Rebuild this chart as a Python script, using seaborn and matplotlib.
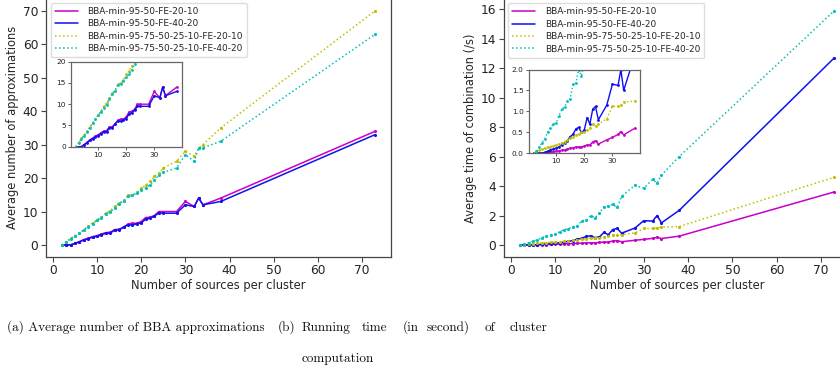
import numpy as np
import pandas as pd
import matplotlib
matplotlib.use("Agg")
import matplotlib.pyplot as plt
import seaborn as sns

# ---------------- data ----------------
sources = [2, 3, 4, 5, 6, 7, 8, 9, 10, 11, 12, 13, 14, 15, 16, 17, 18, 19, 20,
           21, 22, 23, 24, 25, 28, 30, 32, 33, 34, 38, 73]

series_names = ["BBA-min-95-50-FE-20-10", "BBA-min-95-50-FE-40-20",
                "BBA-min-95-75-50-25-10-FE-20-10", "BBA-min-95-75-50-25-10-FE-40-20"]

approx_fe20_95_50 = [0, 0, 0, 0.5, 1.0, 1.6, 2.0, 2.5, 2.8, 3.3, 3.7, 3.8, 4.6, 4.7, 5.3, 6.2, 6.5,
                     6.5, 7.0, 8.2, 8.3, 8.8, 10.0, 10.0, 10.0, 13.0, 11.5, 14.0, 12.0, 14.0, 34.0]
approx_fe40_95_50 = [0, 0, 0, 0.5, 0.9, 1.5, 1.9, 2.3, 2.6, 3.0, 3.5, 3.5, 4.5, 4.4, 5.4, 6.0, 6.0,
                     6.3, 6.6, 7.7, 8.0, 8.6, 9.6, 9.5, 9.5, 12.0, 11.5, 14.0, 12.0, 13.0, 33.0]
approx_fe20_multi = [0, 1.0, 2.0, 2.7, 3.6, 4.6, 5.6, 6.5, 7.5, 8.4, 9.6, 10.3, 11.5, 12.6, 13.2, 14.8,
                     14.9, 15.8, 17.0, 17.8, 19.0, 20.5, 21.5, 23.0, 25.0, 28.0, 26.5, 29.0, 30.0, 35.0, 70.0]
approx_fe40_multi = [0, 0.8, 1.8, 2.6, 3.5, 4.5, 5.5, 6.4, 7.4, 8.2, 9.2, 9.8, 11.2, 12.3, 13.2, 14.5,
                     14.8, 15.5, 16.4, 17.0, 18.0, 19.5, 20.8, 21.7, 23.0, 27.0, 25.0, 29.0, 29.0, 31.0, 63.0]

time_fe20_95_50 = [0, 0, 0, 0, 0.01, 0.02, 0.03, 0.04, 0.05, 0.06, 0.07, 0.08, 0.10, 0.12, 0.13, 0.15,
                   0.15, 0.15, 0.17, 0.20, 0.20, 0.27, 0.30, 0.22, 0.32, 0.38, 0.45, 0.52, 0.44, 0.60, 3.60]
time_fe40_95_50 = [0, 0, 0, 0, 0.02, 0.05, 0.08, 0.10, 0.12, 0.15, 0.20, 0.25, 0.30, 0.40, 0.45, 0.58,
                   0.62, 0.50, 0.55, 0.85, 0.70, 1.05, 1.12, 0.80, 1.15, 1.65, 1.62, 2.00, 1.50, 2.35, 12.70]
time_fe20_multi = [0, 0.03, 0.07, 0.10, 0.12, 0.14, 0.16, 0.18, 0.20, 0.22, 0.25, 0.28, 0.32, 0.36, 0.40,
                   0.43, 0.46, 0.50, 0.50, 0.55, 0.60, 0.70, 0.65, 0.70, 0.82, 1.12, 1.12, 1.15, 1.22, 1.25, 4.60]
time_fe40_multi = [0, 0.05, 0.15, 0.25, 0.35, 0.50, 0.60, 0.70, 0.72, 0.90, 1.05, 1.10, 1.25, 1.30, 1.65,
                   1.67, 2.00, 1.85, 2.15, 2.60, 2.65, 2.75, 2.55, 3.30, 4.05, 3.85, 4.45, 4.20, 4.75, 6.00, 15.90]

xlabel = "Number of sources per cluster"
ylabel_a = "Average number of approximations"
ylabel_b = "Average time of combination (/s)"
caption_a = "(a) Average number of BBA approximations"
caption_b_words = ["(b)", "Running", "time", "(in", "second)", "of", "cluster"]
caption_b_line2 = "computation"

# ---------------- style ----------------
sns.set_style("white")
plt.rcParams["font.family"] = ["DejaVu Sans"]
plt.rcParams["axes.edgecolor"] = "#444444"
plt.rcParams["xtick.bottom"] = True
plt.rcParams["ytick.left"] = True
plt.rcParams["xtick.color"] = "#444444"
plt.rcParams["ytick.color"] = "#444444"
plt.rcParams["xtick.labelcolor"] = "#222222"
plt.rcParams["ytick.labelcolor"] = "#222222"

colors = ["#c800c8", "#1010f0", "#bfbf00", "#00bfbf"]
styles = ["-", "-", ":", ":"]

W, H = 840, 371
fig = plt.figure(figsize=(8.4, 3.71), dpi=100)


def px_axes(x0, y0, x1, y1):
    return fig.add_axes([x0 / W, 1 - y1 / H, (x1 - x0) / W, (y1 - y0) / H])


def draw(ax, ys, xs, lw=1.1, ms=4.5, legend=False):
    for name, y, c, ls in zip(series_names, ys, colors, styles):
        df = pd.DataFrame({"x": xs, "y": y})
        sns.lineplot(data=df, x="x", y="y", ax=ax, color=c, linestyle=ls, lw=lw,
                     marker=".", markersize=ms, markeredgewidth=0,
                     label=name if legend else None, legend=False)


def main_panel(rect, ys, ylabel, yticks, legend_anchor_px, inset_rect, inset_ylim, inset_yticks):
    ax = px_axes(*rect)
    draw(ax, ys, sources, legend=True)
    ax.set_xlabel(xlabel, fontsize=8.3, labelpad=1.5)
    ax.set_ylabel(ylabel, fontsize=8.3, labelpad=3)
    ax.set_xticks([0, 10, 20, 30, 40, 50, 60, 70])
    ax.set_yticks(yticks)
    ax.tick_params(labelsize=8.8, length=3.5, width=0.8, pad=2)
    for s in ax.spines.values():
        s.set_linewidth(0.9)
    ax.margins(x=0.05, y=0.05)
    x0, y0, x1, y1 = rect
    lx = (legend_anchor_px[0] - x0) / (x1 - x0)
    ly = 1 - (legend_anchor_px[1] - y0) / (y1 - y0)
    leg = ax.legend(loc="upper left", bbox_to_anchor=(lx, ly), borderaxespad=0,
                    fontsize=6.5, handlelength=2.5, handletextpad=1.1, labelspacing=0.38,
                    frameon=True, framealpha=1, edgecolor="#dddddd", fancybox=True,
                    borderpad=0.45)
    for h in leg.legend_handles:
        h.set_marker("")

    ins = px_axes(*inset_rect)
    mask = [i for i, s in enumerate(sources) if s <= 38]
    xs_in = [sources[i] for i in mask]
    ys_in = [[y[i] for i in mask] for y in ys]
    draw(ins, ys_in, xs_in, lw=1.0, ms=4.0)
    ins.set_ylim(*inset_ylim)
    ins.margins(x=0.05)
    ins.set_xticks([10, 20, 30])
    ins.set_yticks(inset_yticks)
    ins.set_xlabel("")
    ins.set_ylabel("")
    ins.tick_params(labelsize=5.3, length=2, width=0.6, pad=1.5)
    for s in ins.spines.values():
        s.set_linewidth(0.9)
        s.set_edgecolor("#666666")
    return ax, ins


main_panel((46, -1, 391, 256.7),
           [approx_fe20_95_50, approx_fe40_95_50, approx_fe20_multi, approx_fe40_multi],
           ylabel_a, [0, 10, 20, 30, 40, 50, 60, 70], (51, 3),
           (70.7, 61.7, 181.7, 146.7), (0, 20), [0, 5, 10, 15, 20])

ax_b, ins_b = main_panel((504, -1, 850, 256.7),
                         [time_fe20_95_50, time_fe40_95_50, time_fe20_multi, time_fe40_multi],
                         ylabel_b, [0, 2, 4, 6, 8, 10, 12, 14, 16], (508.3, 3.3),
                         (528.5, 69.5, 640, 153.3), (0, 2), [0.0, 0.5, 1.0, 1.5, 2.0])
ins_b.yaxis.set_major_formatter(matplotlib.ticker.FormatStrFormatter("%.1f"))

# ---------------- captions ----------------
cap_font = dict(family="cmr10", fontsize=9.5, color="#111111", va="baseline", ha="left")
fig.text(7 / W, 1 - 331 / H, caption_a, **cap_font)
word_x = [278, 302, 362, 403, 427, 485, 510]
for wx, w in zip(word_x, caption_b_words):
    fig.text(wx / W, 1 - 331 / H, w, **cap_font)
fig.text(302 / W, 1 - 362 / H, caption_b_line2, **cap_font)

fig.savefig("out.png", dpi=100)
